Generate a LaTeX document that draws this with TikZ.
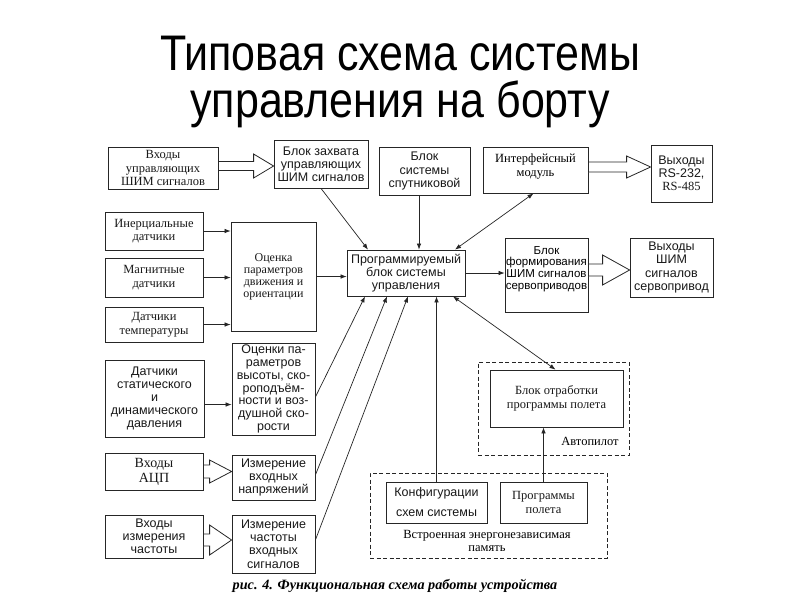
\documentclass[tikz,border=0pt]{standalone}
\usepackage{fontspec}
\setmainfont{Liberation Serif}
\setsansfont{Liberation Sans}
\usetikzlibrary{arrows.meta,calc}

\tikzset{
  box/.style={draw=black!85, line width=0.8pt, inner sep=0pt, align=center, text=black!90},
  sf/.style={font=\sffamily\fontsize{12.5}{13.2}\selectfont},
  sft/.style={font=\sffamily\fontsize{12.5}{12.7}\selectfont},
  sfs/.style={font=\sffamily\fontsize{11.5}{11.7}\selectfont},
  sfw/.style={font=\sffamily\fontsize{12.5}{20}\selectfont},
  rm/.style={font=\rmfamily\fontsize{12.5}{13.5}\selectfont},
  rmm/.style={font=\rmfamily\fontsize{12}{12}\selectfont},
  rmb/.style={font=\rmfamily\fontsize{14}{15}\selectfont},
  dbox/.style={dash pattern=on 4pt off 2.5pt},
  tip/.tip={Latex[length=6pt,width=4.5pt]},
  conn/.style={draw=black!85, line width=0.7pt, -tip},
  conntwo/.style={draw=black!85, line width=0.7pt, tip-tip},
  barrow/.style={draw=black!85, line width=0.8pt, fill=white},
}

% box: [style] name x1 y1 x2 y2 text   (pixel coordinates, y downward)
\newcommand\bx[7][]{\node[box,#1,minimum width={(#5-#3)*1pt},minimum height={(#6-#4)*1pt}] (#2) at ({(#3+#5)/2},{(#4+#6)/2}) {#7};}
% hollow block arrow: from to dy shafthalf headhalf headlength
\newcommand\barr[6]{\draw[barrow] let \p1=($(#1.east)+(0,#3)$), \p2=(#2.west) in
  (\x1,\y1+#4pt) -- (\x2-#6pt,\y1+#4pt) -- (\x2-#6pt,\y1+#5pt) -- (\x2,\y1)
  -- (\x2-#6pt,\y1-#5pt) -- (\x2-#6pt,\y1-#4pt) -- (\x1,\y1-#4pt) -- cycle;}

\begin{document}
\begin{tikzpicture}[x=1pt,y=-1pt]
\useasboundingbox[fill=white] (0,0) rectangle (800,600);

% title
\node[font=\sffamily\fontsize{50}{50}\selectfont, xscale=0.86, anchor=base] (t1) at (400,70) {Типовая схема системы};
\node[font=\sffamily\fontsize{50}{50}\selectfont, xscale=0.86, anchor=base] (t2) at (400,117) {управления на борту};

% top row
\bx[rm]{b1}{108}{147}{218}{189}{Входы\\управляющих\\ШИМ сигналов}
\bx[sf]{b2}{274}{140}{368}{188}{Блок захвата\\управляющих\\ШИМ сигналов}
\bx[sf]{b3}{379}{147}{470}{195}{Блок\\системы\\спутниковой}
\bx{b4}{483}{147}{588}{193}{}
\node[rm, anchor=north, align=center] (b4t) at ($(b4.north)+(0,4)$) {Интерфейсный\\модуль};
\bx[sf]{b5}{651}{145}{712}{202}{Выходы\\RS-232,\\{\rmfamily RS-485}}

% middle
\bx[rm]{l1}{105}{212}{203}{250}{Инерциальные\\датчики}
\bx[rm]{l2}{105}{258}{203}{297}{Магнитные\\датчики}
\bx[rm]{l3}{105}{307}{203}{342}{Датчики\\температуры}
\bx[rmm]{m1}{231}{222}{316}{331}{Оценка\\параметров\\движения и\\ориентации}
\bx[sf]{p}{347}{250}{465}{296}{Программируемый\\блок системы\\управления}
\bx{f}{505}{238}{588}{312}{}
\node[sfs, anchor=north, align=center] (ft) at ($(f.north)+(0,5)$) {Блок\\формирования\\ШИМ сигналов\\сервоприводов};
\bx[sf]{g}{630}{238}{713}{297}{Выходы\\ШИМ\\сигналов\\сервопривод}

% lower left
\bx[sf]{l4}{105}{360}{204}{437}{Датчики\\статического\\и\\динамического\\давления}
\bx[sft]{m2}{232}{343}{315}{435}{Оценки па-\\раметров\\высоты, ско-\\роподъём-\\ности и воз-\\душной ско-\\рости}
\bx[rmb]{l5}{105}{453}{203}{490}{Входы\\АЦП}
\bx[sf]{m3}{232}{455}{315}{500}{Измерение\\входных\\напряжений}
\bx[sf]{l6}{105}{515}{203}{558}{Входы\\измерения\\частоты}
\bx[sf]{m4}{232}{515}{315}{573}{Измерение\\частоты\\входных\\сигналов}

% autopilot
\bx[dbox]{ap}{478}{362}{629}{455}{}
\bx[rm]{bo}{490}{370}{623}{427}{Блок отработки\\программы полета}
\node[rm] (apl) at (590,441) {Автопилот};

% memory
\bx[dbox]{mem}{370}{473}{607}{558}{}
\bx[sfw]{cfg}{386}{482}{487}{523}{Конфигурации\\схем системы}
\bx[rm]{prg}{500}{482}{587}{523}{Программы\\полета}
\node[rm, align=center] (memt) at (487,541) {Встроенная энергонезависимая\\память};

% caption
\node[font=\rmfamily\bfseries\itshape\fontsize{14.2}{14.2}\selectfont, anchor=base] (cap) at (395,589) {рис. 4. Функциональная схема работы устройства};

% block arrows
\barr{b1}{b2}{-2}{4.5}{12}{20}
\barr{b4}{b5}{-3}{5}{11}{24}
\barr{f}{g}{-5}{6}{15}{27}
\barr{l5}{m3}{0}{6.5}{11.5}{22}
\barr{l6}{m4}{3.5}{6}{15}{22}

% connectors
\draw[conn] (l1.east) -- (l1.east -| m1.west);
\draw[conn] (l2.east) -- (l2.east -| m1.west);
\draw[conn] (l3.east) -- (l3.east -| m1.west);
\draw[conn] (m1.east) -- (m1.east -| p.west);
\draw[conn] (p.east) -- (p.east -| f.west);
\draw[conn] ([yshift=-6pt]l4.east) -- ([yshift=-6pt]l4.east -| m2.west);

\draw[conn] (b2.south) -- ([xshift=-38pt]p.north);
\draw[conn] ([xshift=13pt]p.north |- b3.south) -- ([xshift=13pt]p.north);
\draw[conntwo] ([xshift=-2pt]b4.south) -- ([xshift=49pt]p.north);

\draw[conn] ([yshift=-8pt]m2.east) -- ([xshift=-41pt]p.south);
\draw[conn] ([yshift=2.5pt]m3.east) -- ([xshift=-19pt]p.south);
\draw[conn] ([yshift=4pt]m4.east) -- ([xshift=2pt]p.south);
\draw[conn] (cfg.north) -- (cfg.north |- p.south);
\draw[conn] (prg.north) -- (prg.north |- bo.south);
\draw[conntwo] ([xshift=47pt]p.south) -- ([xshift=-1pt]bo.north);
\end{tikzpicture}
\end{document}
